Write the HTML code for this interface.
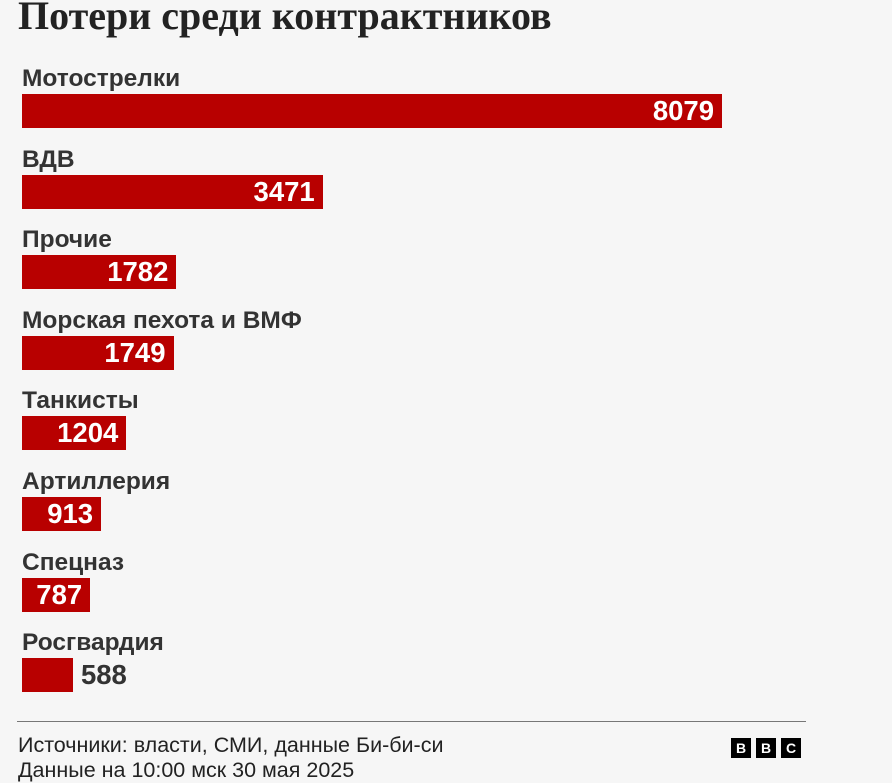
<!DOCTYPE html>
<html><head><meta charset="utf-8"><style>
body{margin:0;width:892px;height:783px;background:#f6f6f6;overflow:hidden;position:relative;font-family:"Liberation Sans",sans-serif;color:#222}
#title{position:absolute;left:18px;top:-8px;font-family:"Liberation Serif",serif;font-size:40px;font-weight:bold;color:#222;white-space:nowrap}
.lbl{position:absolute;left:22px;font-size:24.5px;font-weight:bold;color:#333;white-space:nowrap}
.bar{position:absolute;left:22px;height:34px;background:#b80000}
.val{position:absolute;font-size:27.5px;font-weight:bold;line-height:34px;white-space:nowrap}
#rule{position:absolute;left:17px;top:721px;width:789px;height:1px;background:#777}
.foot{position:absolute;left:18px;font-size:21.5px;color:#222;white-space:nowrap}
.b{position:absolute;top:738px;width:20px;height:20px;background:#000;color:#fff;font:bold 14px "Liberation Sans",sans-serif;text-align:center;line-height:20px}
</style></head><body>
<div id="title">Потери среди контрактников</div>
<div id="chart"></div>
<div id="rule"></div>
<div class="foot" style="top:733px">Источники: власти, СМИ, данные Би-би-си</div>
<div class="foot" style="top:758px">Данные на 10:00 мск 30 мая 2025</div>
<div class="b" style="left:731px">B</div>
<div class="b" style="left:756px">B</div>
<div class="b" style="left:781px">C</div>
<script>
const categories=["Мотострелки","ВДВ","Прочие","Морская пехота и ВМФ","Танкисты","Артиллерия","Спецназ","Росгвардия"];
const values=[8079,3471,1782,1749,1204,913,787,588];
const maxVal=8079,maxW=700,top0=94,step=80.6;
const x=v=>v/maxVal*maxW;
const c=document.getElementById('chart');
categories.forEach((cat,i)=>{
  const y=top0+i*step,w=x(values[i]);
  const l=document.createElement('div');l.className='lbl';l.textContent=cat;l.style.top=(y-29)+'px';
  
  
  c.appendChild(l);
  const b=document.createElement('div');b.className='bar';b.style.top=y+'px';b.style.width=w+'px';
  
  
  c.appendChild(b);
  const v=document.createElement('div');v.className='val';v.textContent=values[i];v.style.top=y+'px';
  
  
  c.appendChild(v);
  const tw=v.getBoundingClientRect().width;
  if(tw+12<w){v.style.left=(22+w-8-tw)+'px';v.style.color='#fff';}
  else{v.style.left=(22+w+8)+'px';v.style.color='#333';}
});
</script>
</body></html>
